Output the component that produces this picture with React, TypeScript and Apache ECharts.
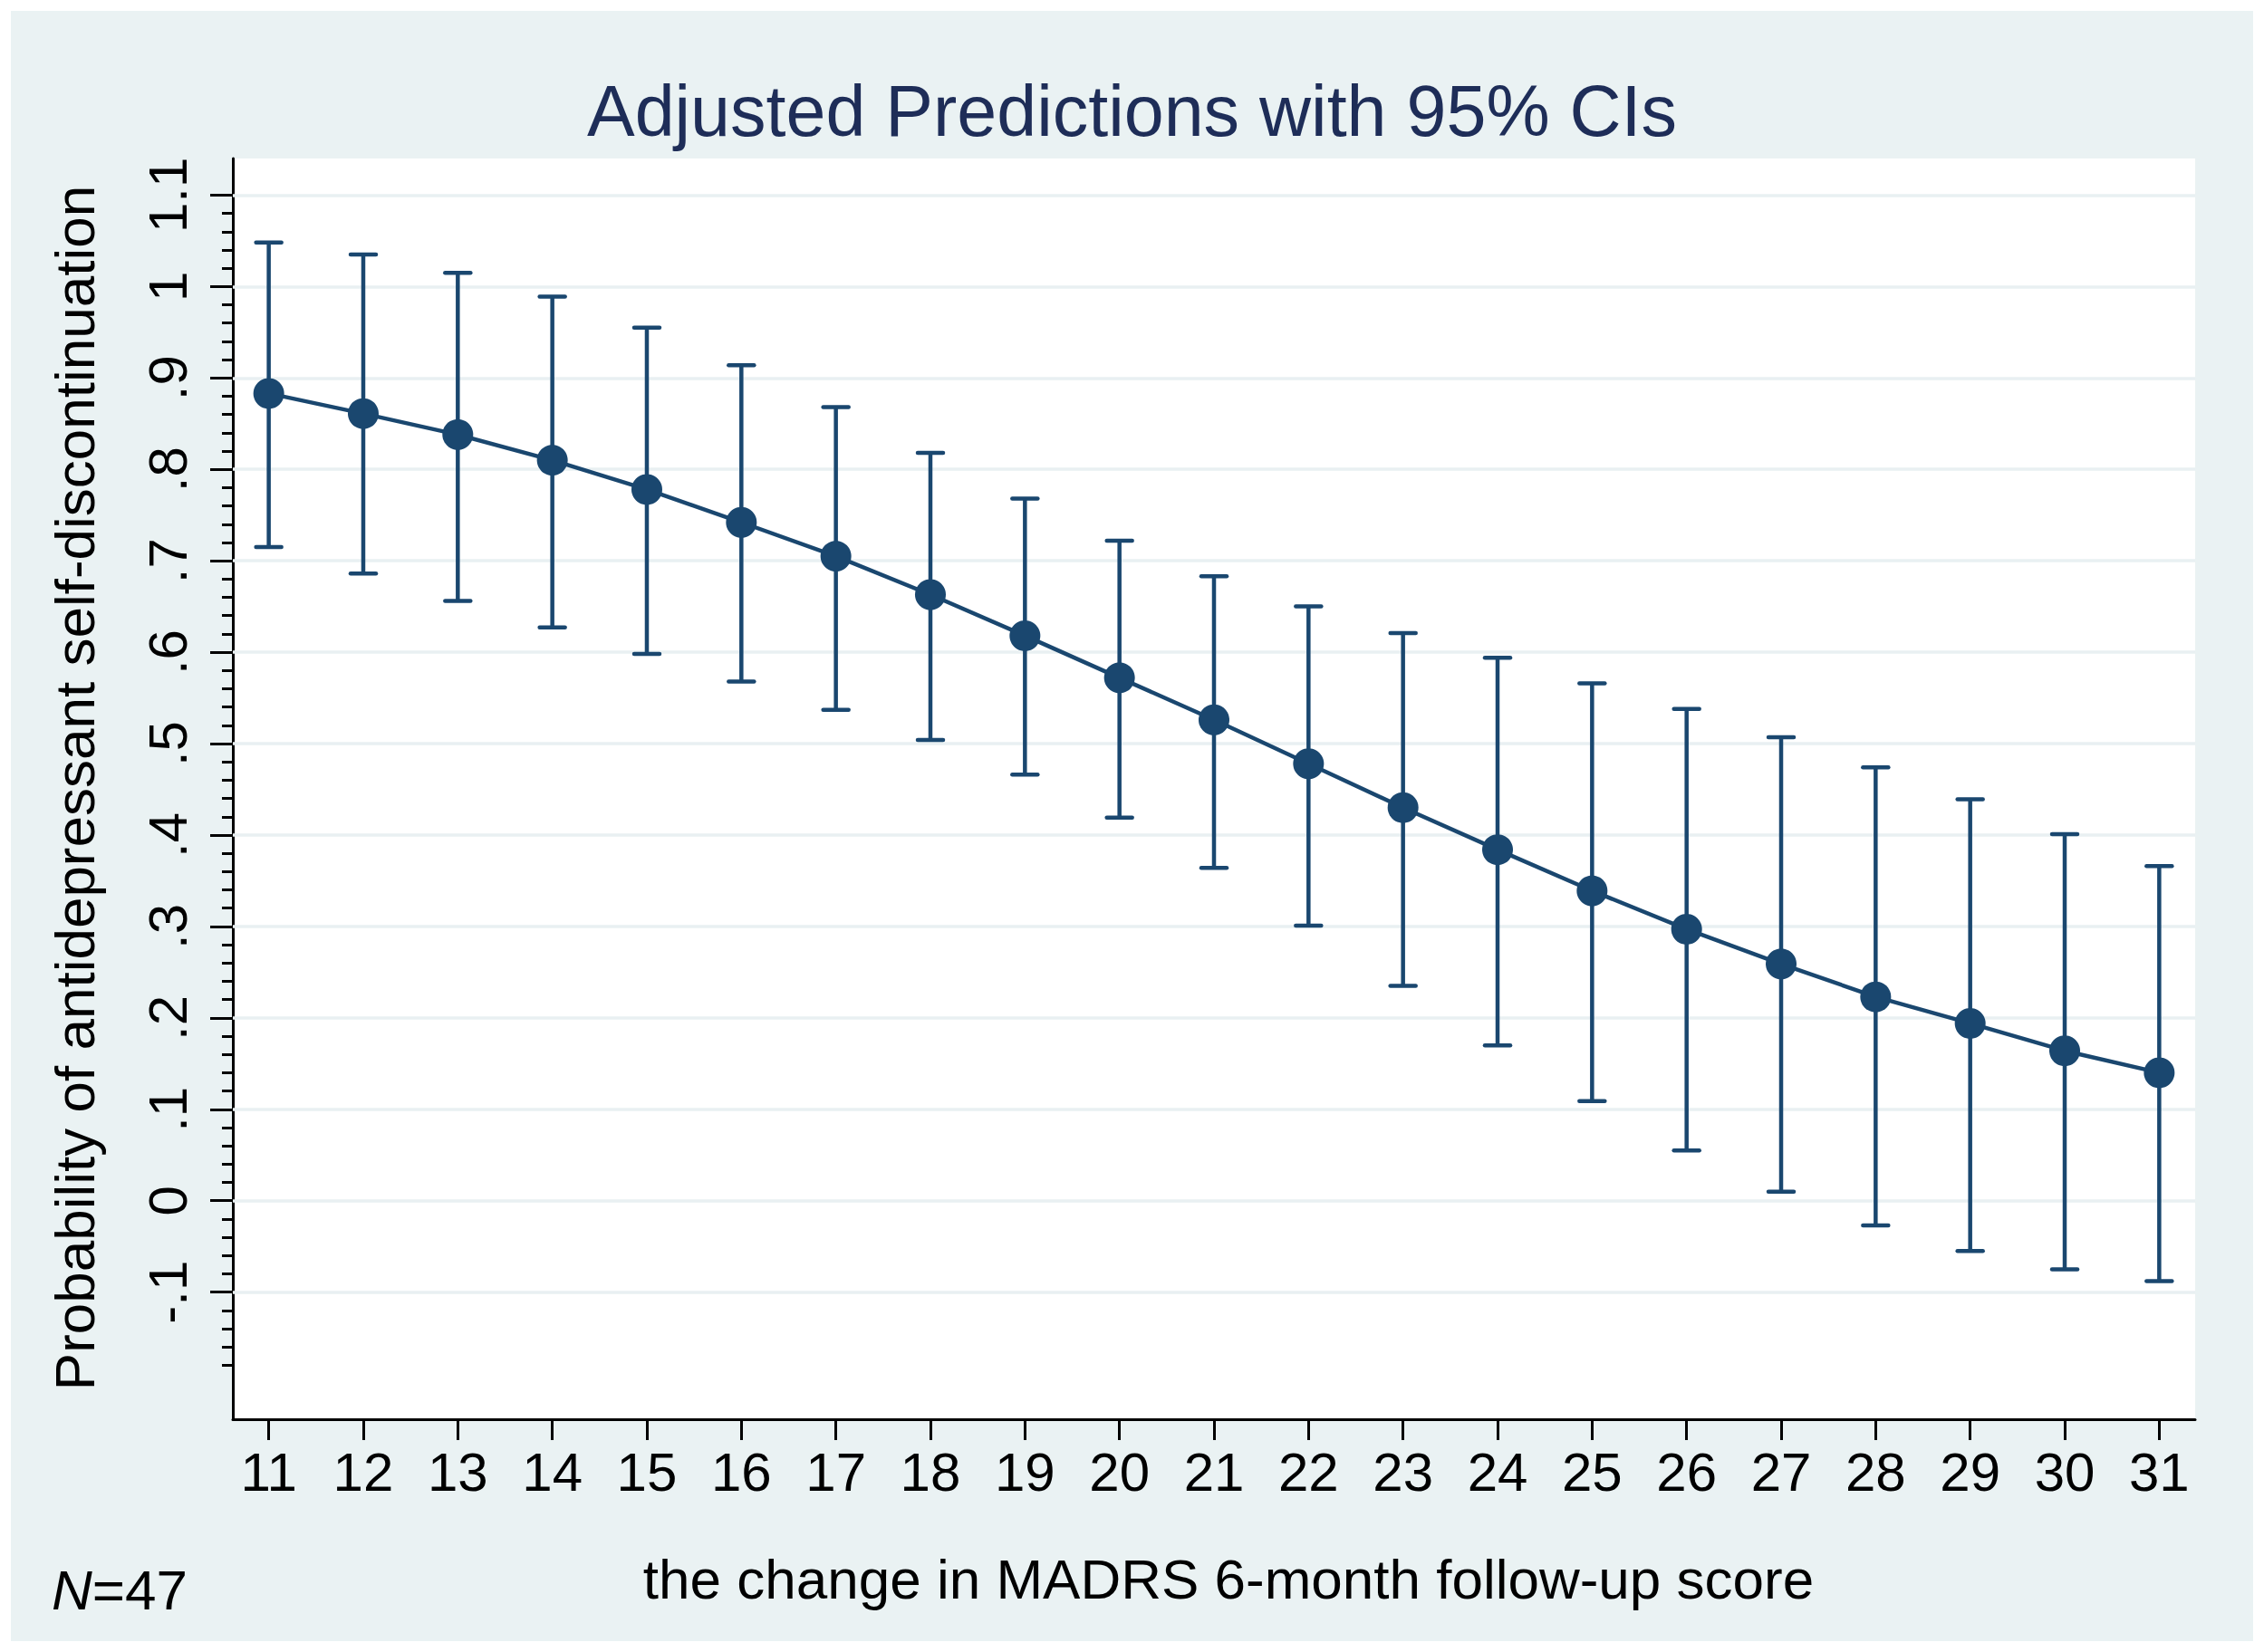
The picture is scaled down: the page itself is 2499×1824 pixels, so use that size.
import React, { useEffect, useRef } from "react";
import * as echarts from "echarts";

// ---- data ----
const xValues = [11, 12, 13, 14, 15, 16, 17, 18, 19, 20, 21, 22, 23, 24, 25, 26, 27, 28, 29, 30, 31];
const margins = [0.883, 0.861, 0.838, 0.810, 0.778, 0.742, 0.705, 0.663, 0.618, 0.572, 0.526, 0.478, 0.430, 0.384, 0.339, 0.297, 0.259, 0.223, 0.194, 0.164, 0.140];
const upperCI = [1.048, 1.035, 1.015, 0.989, 0.955, 0.914, 0.868, 0.818, 0.768, 0.722, 0.683, 0.650, 0.621, 0.594, 0.566, 0.538, 0.507, 0.474, 0.439, 0.401, 0.366];
const lowerCI = [0.715, 0.686, 0.656, 0.627, 0.598, 0.568, 0.537, 0.504, 0.466, 0.419, 0.364, 0.301, 0.235, 0.170, 0.109, 0.055, 0.010, -0.027, -0.055, -0.075, -0.088];

const xTickValues = [11, 12, 13, 14, 15, 16, 17, 18, 19, 20, 21, 22, 23, 24, 25, 26, 27, 28, 29, 30, 31];
const yTickValues = [-0.1, 0, 0.1, 0.2, 0.3, 0.4, 0.5, 0.6, 0.7, 0.8, 0.9, 1, 1.1];
const yTickLabels = ["-.1", "0", ".1", ".2", ".3", ".4", ".5", ".6", ".7", ".8", ".9", "1", "1.1"];

const titleText = "Adjusted Predictions with 95% CIs";
const xTitle = "the change in MADRS 6-month follow-up score";
const yTitle = "Probability of antidepressant self-discontinuation";
const noteLabel = "N";
const noteValue = "=47";

const FONT = '"Liberation Sans", Arial, Helvetica, sans-serif';
const NAVY = "#1A476F";
const PANEL = "#EAF2F3";

export default function App() {
  const ref = useRef<HTMLDivElement>(null);

  useEffect(() => {
    if (!ref.current) return;
    const chart = echarts.init(ref.current, null, { renderer: "svg" });

    const minorTicks: number[] = [];
    for (let i = -10; i <= 54; i++) {
      if (i % 5 !== 0) minorTicks.push(Number((i * 0.02).toFixed(2)));
    }

    const yMin = -0.239;
    const yMax = 1.140;
    const axisLineStyle = { color: "#000000", width: 3 };

    const option: any = {
      animation: false,
      backgroundColor: "#ffffff",
      textStyle: { fontFamily: FONT },
      grid: {
        left: 257,
        top: 175,
        right: 76,
        bottom: 257,
        show: true,
        backgroundColor: "#ffffff",
        borderWidth: 0,
        containLabel: false,
      },
      xAxis: {
        type: "value",
        min: 10.62,
        max: 31.38,
        axisLine: { show: true, onZero: false, lineStyle: axisLineStyle },
        axisTick: { show: true, customValues: xTickValues, length: 23, lineStyle: axisLineStyle },
        axisLabel: {
          show: true,
          customValues: xTickValues,
          margin: 28,
          fontSize: 60,
          color: "#000000",
          fontFamily: FONT,
        },
        splitLine: { show: false },
      },
      yAxis: [
        {
          type: "value",
          min: yMin,
          max: yMax,
          position: "left",
          axisLine: { show: true, onZero: false, lineStyle: axisLineStyle },
          axisTick: { show: true, customValues: yTickValues, length: 25, lineStyle: axisLineStyle },
          axisLabel: {
            show: true,
            customValues: yTickValues,
            rotate: 90,
            margin: 42,
            fontSize: 60,
            color: "#000000",
            fontFamily: FONT,
            formatter: (v: number) => {
              const i = yTickValues.findIndex((t) => Math.abs(t - v) < 1e-6);
              return i >= 0 ? yTickLabels[i] : "";
            },
          },
          splitLine: { show: false },
        },
        {
          type: "value",
          min: yMin,
          max: yMax,
          position: "left",
          offset: 0,
          axisLine: { show: false, onZero: false },
          axisTick: { show: true, customValues: minorTicks, length: 12, lineStyle: axisLineStyle },
          axisLabel: { show: false },
          splitLine: { show: false },
        },
      ],
      graphic: [
        {
          type: "rect",
          z: -10,
          silent: true,
          shape: { x: 12, y: 12, width: 2475, height: 1800 },
          style: { fill: PANEL },
        },
        {
          type: "text",
          x: 1249.5,
          y: 122,
          silent: true,
          style: {
            text: titleText,
            fill: "#1E2D58",
            fontSize: 79,
            fontFamily: FONT,
            align: "center",
            verticalAlign: "middle",
          },
        },
        {
          type: "text",
          x: 1356,
          y: 1743.5,
          silent: true,
          style: {
            text: xTitle,
            fill: "#000000",
            fontSize: 62,
            fontFamily: FONT,
            align: "center",
            verticalAlign: "middle",
          },
        },
        {
          type: "text",
          x: 82,
          y: 870,
          rotation: Math.PI / 2,
          silent: true,
          style: {
            text: yTitle,
            fill: "#000000",
            fontSize: 62,
            fontFamily: FONT,
            align: "center",
            verticalAlign: "middle",
          },
        },
        {
          type: "text",
          x: 57,
          y: 1755,
          silent: true,
          style: {
            text: "{i|" + noteLabel + "}" + noteValue,
            fill: "#000000",
            fontSize: 62,
            fontFamily: FONT,
            align: "left",
            verticalAlign: "middle",
            rich: {
              i: { fontStyle: "italic", fontSize: 62, fontFamily: FONT, fill: "#000000" },
            },
          },
        },
      ],
      series: [
        {
          // carrier for horizontal grid lines at the labelled y ticks
          type: "line",
          z: 1,
          silent: true,
          data: xValues.map((x, i) => [x, margins[i]]),
          symbol: "none",
          lineStyle: { opacity: 0, width: 0 },
          markLine: {
            z: 1,
            silent: true,
            symbol: ["none", "none"],
            label: { show: false },
            lineStyle: { color: "#E9F0F2", width: 3.5, type: "solid" },
            emphasis: { disabled: true },
            data: yTickValues.map((v) => ({ yAxis: v })),
          },
        },
        {
          type: "custom",
          z: 3,
          silent: true,
          data: xValues.map((x, i) => [x, lowerCI[i], upperCI[i]]),
          encode: { x: 0, y: [1, 2] },
          renderItem: (params: any, api: any) => {
            const x = api.value(0);
            const lo = api.coord([x, api.value(1)]);
            const hi = api.coord([x, api.value(2)]);
            const hw = 14;
            const stem = { stroke: NAVY, lineWidth: 4.5, fill: "none" };
            const cap = { stroke: NAVY, lineWidth: 4.5, fill: "none", lineCap: "round" };
            return {
              type: "group",
              children: [
                { type: "line", shape: { x1: lo[0], y1: lo[1], x2: hi[0], y2: hi[1] }, style: stem },
                { type: "line", shape: { x1: hi[0] - hw, y1: hi[1], x2: hi[0] + hw, y2: hi[1] }, style: cap },
                { type: "line", shape: { x1: lo[0] - hw, y1: lo[1], x2: lo[0] + hw, y2: lo[1] }, style: cap },
              ],
            };
          },
        },
        {
          type: "line",
          z: 6,
          silent: true,
          data: xValues.map((x, i) => [x, margins[i]]),
          symbol: "circle",
          symbolSize: 34,
          itemStyle: { color: NAVY, borderWidth: 0 },
          lineStyle: { color: NAVY, width: 4.5 },
        },
      ],
    };

    chart.setOption(option);
    return () => chart.dispose();
  }, []);

  return (
    <div
      ref={ref}
      style={{ position: "fixed", left: 0, top: 0, width: 2499, height: 1824 }}
    />
  );
}
